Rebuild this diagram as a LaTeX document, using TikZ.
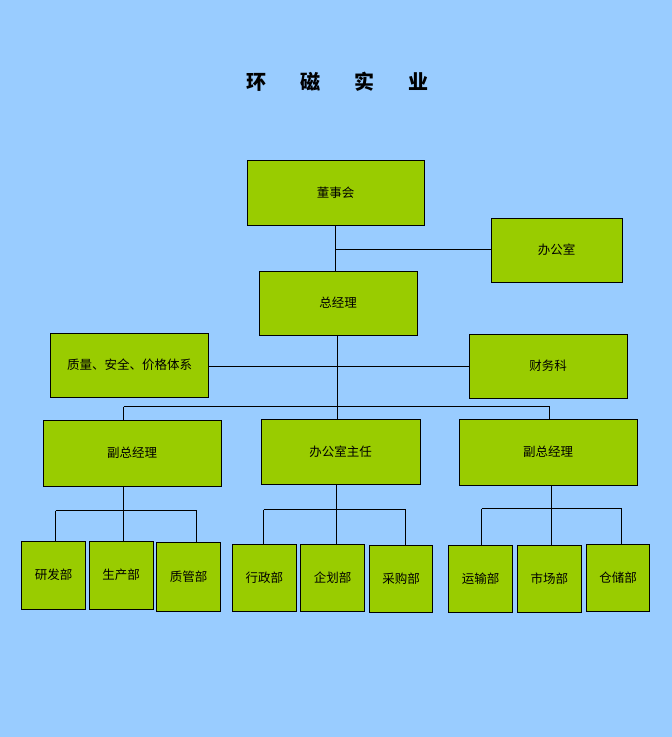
\documentclass[tikz,border=0pt]{standalone}
\usepackage{fontspec}
\newfontfamily\cjk{Noto Sans CJK SC}
\definecolor{bg}{HTML}{99CCFF}
\definecolor{boxfill}{HTML}{99CC00}
\begin{document}
\begin{tikzpicture}[x=1pt,y=-1pt,
  box/.style={draw=black,line width=1pt,fill=boxfill,inner sep=0pt,
    font=\cjk\fontsize{12.5}{14}\selectfont},
  link/.style={draw=black,line width=1.2pt}]
\fill[bg] (0,0) rectangle (672,737);
\useasboundingbox (0,0) rectangle (672,737);
% title
\node[font=\cjk\bfseries\fontsize{20}{24}\selectfont] (title) at (337.5,82)
  {环\hspace{34pt}磁\hspace{34pt}实\hspace{34pt}业};
% upper boxes
\node[box,minimum width=177pt,minimum height=65pt] (dsh) at (335.5,192.5) {董事会};
\node[box,minimum width=131pt,minimum height=64pt] (bgs) at (556.5,250) {办公室};
\node[box,minimum width=158pt,minimum height=64pt] (zjl) at (338,303) {总经理};
\node[box,minimum width=158pt,minimum height=64pt] (zl) at (129.5,365) {质量、安全、价格体系};
\node[box,minimum width=158pt,minimum height=64pt] (cwk) at (548,366) {财务科};
\node[box,minimum width=178pt,minimum height=66pt] (fz1) at (132,453) {副总经理};
\node[box,minimum width=159pt,minimum height=65pt] (bzr) at (340.5,451.5) {办公室主任};
\node[box,minimum width=178pt,minimum height=66pt] (fz2) at (548,452) {副总经理};
% bottom boxes
\node[box,minimum width=64pt,minimum height=68pt] (yf) at (53.5,575) {研发部};
\node[box,minimum width=64pt,minimum height=68pt] (sc) at (121,575) {生产部};
\node[box,minimum width=64pt,minimum height=69pt] (zg) at (188.5,576.5) {质管部};
\node[box,minimum width=64pt,minimum height=67pt] (xz) at (264.3,577.5) {行政部};
\node[box,minimum width=64pt,minimum height=67pt] (qh) at (332.5,577.5) {企划部};
\node[box,minimum width=63pt,minimum height=67pt] (cg) at (401,578.5) {采购部};
\node[box,minimum width=64pt,minimum height=67pt] (ys) at (480.5,578.5) {运输部};
\node[box,minimum width=64pt,minimum height=67pt] (scb) at (549.3,578.5) {市场部};
\node[box,minimum width=63pt,minimum height=67pt] (cc) at (618,577.5) {仓储部};
% joints
\coordinate (j1) at (335.5,249.5);
\coordinate (j2) at (337.5,366.5);
\coordinate (bl) at (123.5,406.5);
\coordinate (br) at (549.5,406.5);
\coordinate (l1) at (55.5,510.5);
\coordinate (l2) at (123.5,510.5);
\coordinate (l3) at (196.5,510.5);
\coordinate (m1) at (263.5,509.5);
\coordinate (m2) at (336.5,509.5);
\coordinate (m3) at (405.5,509.5);
\coordinate (r1) at (481.5,508.5);
\coordinate (r2) at (551.5,508.5);
\coordinate (r3) at (621.5,508.5);
% connectors
\draw[link] (j1 |- dsh.south) -- (j1 |- zjl.north);
\draw[link] (j1) -- (bgs.west |- j1);
\draw[link] (j2 |- zjl.south) -- (j2 |- bzr.north);
\draw[link] (zl.east |- j2) -- (cwk.west |- j2);
\draw[link] (bl) -- (br);
\draw[link] (bl) -- (bl |- fz1.north);
\draw[link] (br) -- (br |- fz2.north);
\draw[link] (l2 |- fz1.south) -- (l2 |- sc.north);
\draw[link] (l1) -- (l3);
\draw[link] (l1) -- (l1 |- yf.north);
\draw[link] (l3) -- (l3 |- zg.north);
\draw[link] (m2 |- bzr.south) -- (m2 |- qh.north);
\draw[link] (m1) -- (m3);
\draw[link] (m1) -- (m1 |- xz.north);
\draw[link] (m3) -- (m3 |- cg.north);
\draw[link] (r2 |- fz2.south) -- (r2 |- scb.north);
\draw[link] (r1) -- (r3);
\draw[link] (r1) -- (r1 |- ys.north);
\draw[link] (r3) -- (r3 |- cc.north);
\end{tikzpicture}
\end{document}
